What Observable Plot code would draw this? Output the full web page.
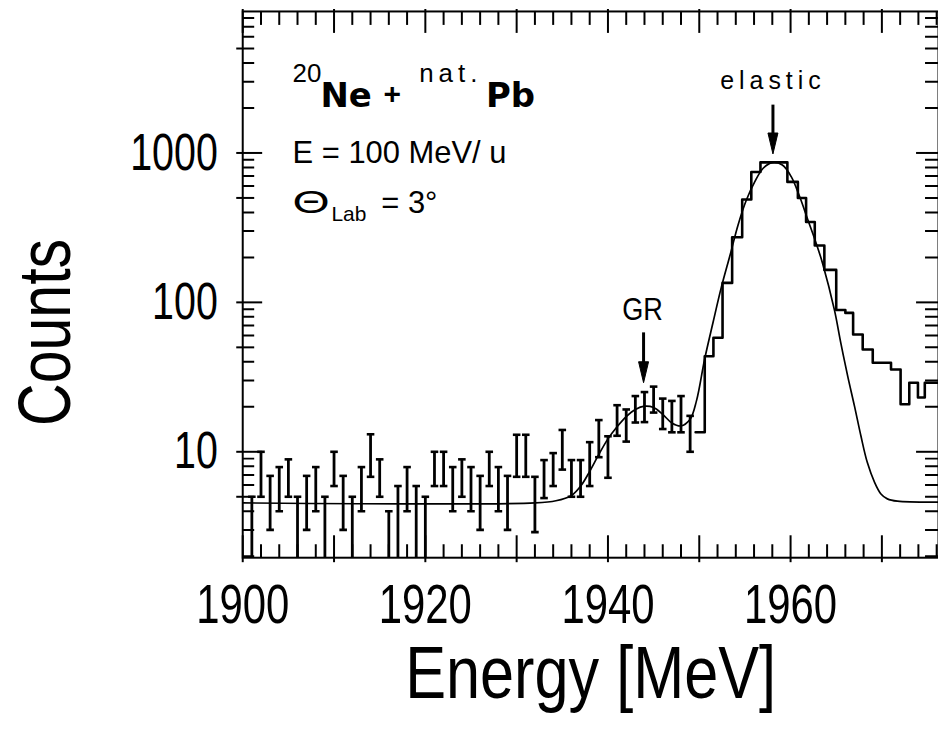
<!DOCTYPE html>
<html><head><meta charset="utf-8">
<script src="https://cdn.jsdelivr.net/npm/d3@7"></script>
<script src="https://cdn.jsdelivr.net/npm/@observablehq/plot@0.6"></script>
<style>
html,body{margin:0;padding:0;background:#fff;overflow:hidden;}
#chart{width:938px;height:736px;overflow:hidden;}
</style></head><body><div id="chart"></div>
<script>
// ---- data ----
const barEnergy = [1901,1902,1903,1904,1905,1906,1907,1908,1909,1910,1911,1912,1913,1914,1915,1916,1917,1918,1919,1920,1921,1922,1923,1924,1925,1926,1927,1928,1929,1930,1931,1932,1933,1934,1935,1936,1937,1938,1939,1940,1941,1942,1943,1944,1945,1946,1947,1948,1949];
const barLow  = [1,5.0,3.0,4.0,5.0,1,3.0,4.0,1,5.9,3.0,1,4.0,6.8,5.0,1,1,4.0,1,1,5.9,5.9,4.0,5.0,4.0,3.0,5.9,4.0,3.0,6.8,6.8,2.9,4.9,5.9,7.6,5.0,5.0,5.9,9.2,6.7,12.8,11.7,15.7,15.8,18.3,14.2,13.5,13.5,10.0];
const barHigh = [5.0,10,6.9,7.9,8.9,5.0,6.9,7.9,5.0,10,6.9,5.0,7.9,13.1,8.9,4.0,5.9,7.9,5.9,5.0,10,10,7.9,8.9,7.9,6.9,10,7.9,6.9,13,13,6.8,8.8,9.8,14,8.8,8.8,11.6,16.3,12.7,20.5,19.2,23.6,25.1,27.3,22.7,21.9,23.6,17.4];

const histEdges  = [1949.6,1950.6,1951.55,1952.55,1953.6,1954.7,1955.7,1956.7,1959.65,1960.8,1961.7,1962.65,1963.7,1965.0,1966.0,1966.85,1967.9,1969.0,1971.0,1972.05,1973.0,1973.95,1974.7,1976.5];
const histCounts = [13.5,43.6,58,135,273,488,745,865,640,500,345,240,165,89,85,60.9,48.4,39.4,35.5,20.8,29,23.1,29];

const fitEnergy = [1900,1932,1934.3,1936,1937.1,1938,1939,1940,1941,1942,1943,1944,1945,1946,1947,1948,1949,1949.7,1950.6,1951.5,1952.4,1953.4,1954.25,1955.15,1956.07,1957,1958,1959.1,1960.07,1961,1961.9,1962.8,1963.5,1964.8,1965.5,1966.25,1967,1967.7,1968.4,1969.2,1969.9,1970.6,1971.7,1976.5];
const fitCounts = [4.55,4.55,4.7,5.1,6.0,7.4,9.6,12.2,14.7,17.2,19.2,20.2,19.8,17.8,15.6,14.9,16.5,22,42,73,125,210,330,482,640,790,862,830,694,509,356,249,183,89,53.6,32.2,20.2,12.8,8.5,6.25,5.22,4.84,4.67,4.6];

const peakLabels = ["elastic","GR"];
const peakEnergy = [1958.07,1943.9];
const peakArrowTop = [2090,62.5];
const peakArrowTip = [985,29];

const xTickLabels = [1900,1920,1940,1960];
const yTickLabels = [10,100,1000];

// ---- layout ----
const W = 941, H = 736;
const mL = 243, mR = 0, mT = 11, mB = 177;
const fW = W - mL - mR, fH = H - mT - mB;

const bars = barEnergy.map((E,i)=>({E, lo: barLow[i], hi: barHigh[i]}));
const hist = histEdges.map((E,i)=>({E, c: histCounts[Math.min(i, histCounts.length-1)]}));
const fit = fitEnergy.map((E,i)=>({E, c: fitCounts[i]}));
const peaks = peakLabels.map((label,i)=>({label, E: peakEnergy[i], top: peakArrowTop[i], tip: peakArrowTip[i]}));

// axis ticks
const yMajor = [10,100,1000];
const yFive = [5,50,500,5000];
const yMinor = [];
[1,10,100,1000].forEach(d=>[2,3,4,6,7,8,9].forEach(m=>yMinor.push(d*m)));
const xMajor = d3.range(1900,1980,10);
const xMinor = d3.range(1902,1977,2).filter(v=>v%10!==0);

const capSym = {draw(ctx,size){const r=Math.sqrt(size/Math.PI);ctx.moveTo(-r,0);ctx.lineTo(r,0);}};
const headSym = {draw(ctx,size){const r=Math.sqrt(size/Math.PI);ctx.moveTo(0,0);ctx.lineTo(-r*0.5,-r*2.1);ctx.lineTo(r*0.5,-r*2.1);ctx.closePath();}};

const SANS = "'Liberation Sans',Arial,sans-serif";
const DJB = "'DejaVu Sans',sans-serif";

const tl = {frameAnchor:"top-left", textAnchor:"start", lineAnchor:"bottom", fill:"black"};

const chart = Plot.plot({
  width: W, height: H,
  marginLeft: mL, marginRight: mR, marginTop: mT, marginBottom: mB,
  x: {type:"linear", domain:[1900,1976.2], axis:null},
  y: {type:"log", domain:[1.955,8850], axis:null},
  style: {background:"white", color:"black"},
  marks: [
    // left axis ticks
    Plot.tickY(yMajor, {y:d=>d, insetLeft:-6, insetRight:fW-20, strokeWidth:2}),
    Plot.tickY(yFive, {y:d=>d, insetLeft:-6, insetRight:fW-12, strokeWidth:2}),
    Plot.tickY(yMinor, {y:d=>d, insetRight:fW-12, strokeWidth:2, clip:true}),
    // right axis ticks
    Plot.tickY(yMajor, {y:d=>d, insetLeft:fW-22, strokeWidth:2}),
    Plot.tickY(yFive.concat(yMinor), {y:d=>d, insetLeft:fW-13, strokeWidth:2, clip:true}),
    // bottom / top ticks
    Plot.tickX(xMajor, {x:d=>d, insetTop:fH-22, insetBottom:-5, strokeWidth:2}),
    Plot.tickX(xMinor, {x:d=>d, insetTop:fH-13, strokeWidth:2}),
    Plot.tickX(xMajor, {x:d=>d, insetBottom:fH-22, insetTop:-2, strokeWidth:2}),
    Plot.tickX(xMinor, {x:d=>d, insetBottom:fH-14, strokeWidth:2}),
    Plot.frame({stroke:"black", strokeWidth:2}),
    // fit curve
    Plot.line(fit, {x:"E", y:"c", curve:"catmull-rom", strokeWidth:1.7, clip:true}),
    // histogram
    Plot.line(hist, {x:"E", y:"c", curve:"step-after", strokeWidth:2.6, clip:true}),
    // error bars
    Plot.ruleX(bars, {x:"E", y1:"lo", y2:"hi", strokeWidth:2.8, clip:true}),
    Plot.dot(bars, {x:"E", y:"hi", symbol:capSym, r:3.8, fill:"none", stroke:"black", strokeWidth:2.6, clip:true}),
    Plot.dot(bars, {x:"E", y:"lo", symbol:capSym, r:3.8, fill:"none", stroke:"black", strokeWidth:2.6, clip:true}),
    // arrows
    Plot.ruleX(peaks, {x:"E", y1:"top", y2:"tip", insetBottom:14, strokeWidth:3}),
    Plot.dot(peaks, {x:"E", y:"tip", symbol:headSym, r:10, fill:"black", stroke:"black", strokeWidth:1}),
    Plot.text(peaks.filter(d=>d.label==="elastic"), {x:"E", y:"top", text:"label", dy:-16, lineAnchor:"bottom", fontFamily:SANS, fontSize:25, fill:"black"}),
    Plot.text(peaks.filter(d=>d.label==="GR"), {x:"E", y:"top", text:"label", dy:-13, dx:-1, lineAnchor:"bottom", fontFamily:SANS, fontSize:32, fill:"black"}),
    // reaction annotation
    Plot.text(["20"], {...tl, dx:50, dy:71, fontFamily:SANS, fontSize:26}),
    Plot.text(["Ne"], {...tl, dx:78, dy:96, fontFamily:DJB, fontWeight:"bold", fontSize:34}),
    Plot.text(["+"], {...tl, textAnchor:"middle", dx:150, dy:93, fontFamily:SANS, fontWeight:"bold", fontSize:30}),
    Plot.text(["nat."], {...tl, dx:177, dy:71, fontFamily:SANS, fontSize:26}),
    Plot.text(["Pb"], {...tl, dx:244, dy:96, fontFamily:DJB, fontWeight:"bold", fontSize:34}),
    Plot.text(["E = 100 MeV/ u"], {...tl, dx:50, dy:152, fontFamily:SANS, fontSize:31}),
    Plot.text(["Θ"], {...tl, dx:50, dy:202, fontFamily:SANS, fontSize:32}),
    Plot.text(["Lab"], {...tl, dx:89, dy:210, fontFamily:SANS, fontSize:21}),
    Plot.text(["= 3°"], {...tl, dx:139, dy:202, fontFamily:SANS, fontSize:31}),
    // tick labels
    Plot.text(xTickLabels, {x:d=>d, text:d=>String(d), frameAnchor:"bottom", textAnchor:"middle", dy:66, lineAnchor:"bottom", fontFamily:SANS, fontSize:56, fill:"black"}),
    Plot.text(yTickLabels, {y:d=>d, text:d=>String(d), frameAnchor:"left", dx:-25, textAnchor:"end", lineAnchor:"middle", fontFamily:SANS, fontSize:52, fill:"black"}),
    // axis titles
    Plot.text(["Energy [MeV]"], {frameAnchor:"bottom", textAnchor:"middle", dy:141, lineAnchor:"bottom", fontFamily:SANS, fontSize:74, fill:"black"}),
    Plot.text(["Counts"], {frameAnchor:"left", textAnchor:"middle", rotate:-90, dx:-173, dy:48, lineAnchor:"bottom", fontFamily:SANS, fontSize:74, fill:"black"})
  ]
});

// condensed lettering: scale text horizontally about its anchor
function condense(t, s) {
  const tr = t.getAttribute("transform");
  if (tr) t.setAttribute("transform", tr + ` scale(${s},1)`);
  else {
    const x = +t.getAttribute("x") || 0, y = +t.getAttribute("y") || 0;
    t.removeAttribute("x"); t.removeAttribute("y");
    t.setAttribute("transform", `translate(${x},${y}) scale(${s},1)`);
  }
}
chart.querySelectorAll("text").forEach(t=>{
  const s = t.textContent;
  if (s === "elastic") t.style.letterSpacing = "5px";
  if (s === "nat.") t.style.letterSpacing = "5px";
  if (["10","100","1000"].includes(s)) condense(t, 0.76);
  if (["1900","1920","1940","1960"].includes(s)) condense(t, 0.75);
  if (s === "Counts") condense(t, 0.8);
  if (s === "Energy [MeV]") condense(t, 0.83);
  if (s === "GR") condense(t, 0.85);
  if (s === "Θ") condense(t, 1.5);
});
document.getElementById("chart").appendChild(chart);
</script>
</body></html>
